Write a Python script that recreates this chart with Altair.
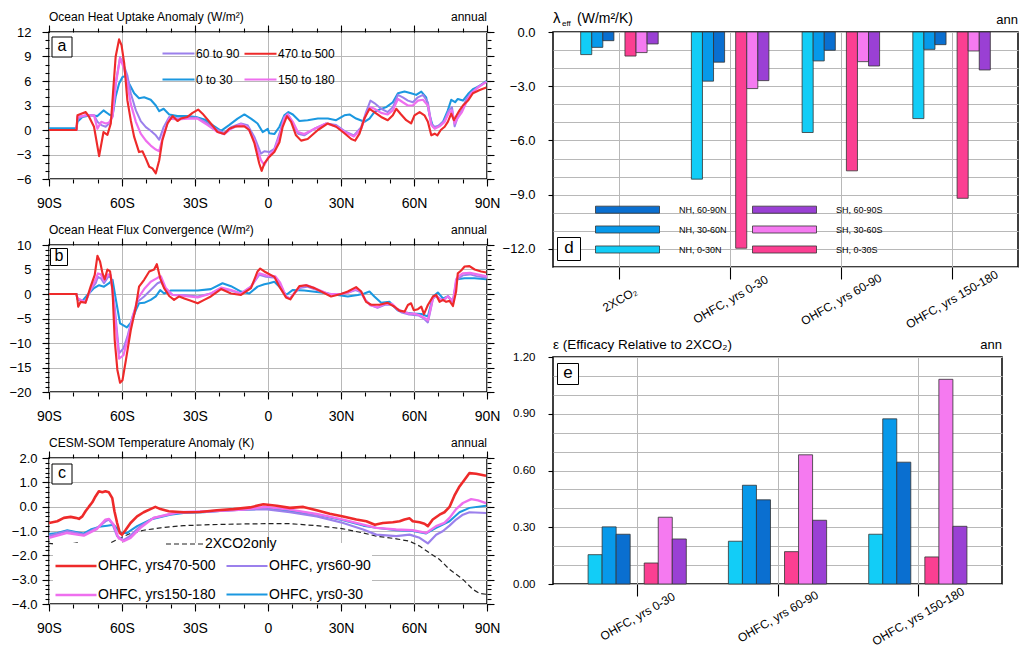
import json
import altair as alt
import pandas as pd

FONT = "Liberation Sans"
PURPLE = "#9b80ec"
RED = "#ee2a2a"
BLUE = "#1b98e0"
PINK = "#ee6fee"
GRID = "#b8b8b8"

# ---------------- Panel a : Ocean Heat Uptake Anomaly ----------------
A_SH_LAT = [-90, -78.7, -78.3, -74.9, -71.5, -70.1, -68.5, -66.7, -65.3, -63.9, -62.6, -60.8, -59.1, -57.8,
            -56.4, -54.3, -52.3, -50.2, -48.2, -46.1, -44.7, -42.9, -40.6, -37.2, -33.1, -29, -24.8, -20.7,
            -18, -15.2, -11.1, -8.4, -5.6, -2.9]
A_NH_LAT = [-1.5, 0.5, 2.6, 4.7, 6.7, 8.1, 10.2, 12.3, 14.9, 19.1, 23.9, 28, 32.1, 35.3, 38.3, 40.3, 42.1,
            43.7, 46.5, 49.2, 51.3, 53.4, 55.4, 57.5, 59.5, 61.6, 63.7, 65.7, 67.1, 68.5, 70.5, 72.6, 74.3,
            75.6, 76.7, 78, 79.7, 81.5, 83.5, 86.3, 89.7]
A_60_90 = [0, 0, 1.4, 1.8, 1.8, 1.0, 0.6, 0.4, 0.8, 1.8, 5.7, 8.9, 7.8, 6.7, 4.5, 2.4, 1.1, 0.35, -0.1, -0.65,
           -1.2, 0.35, 1.6, 1.4, 1.5, 1.5, 0.8, 0, -0.35, 0.35, 0.8, 0.6, -0.85, -2.9,
           -2.6, -2.7, -2.3, -0.45, 1.6, 2.0, 0.8, -0.45, -0.65, 0.15, 0.8, 0.6, -0.25, -0.65, 0.35, 2.2, 3.6,
           3.3, 2.6, 2.2, 2.8, 4.3, 4.0, 3.6, 3.4, 4.0, 4.3, 3.4, 0.8, 0.35, 0.6, 1.2, 2.4, 2.8, 0.45, 1.6,
           2.4, 3.8, 4.5, 5.3, 5.9]
A_150_180 = [0, 0, 1.6, 1.8, 1.8, 0.15, 1.0, 0.8, 0.9, 1.6, 5.5, 8.8, 7.5, 5.7, 3.2, 1.0, -0.45, -1.3, -1.9,
             -2.4, -2.6, -0.45, 1.4, 1.3, 1.4, 1.4, 0.6, -0.25, -0.5, 0.15, 0.7, 0.35, -1.3, -3.7,
             -4.3, -3.1, -2.5, -0.85, 1.4, 1.9, 1.0, -0.25, -0.5, 0.15, 0.8, 0.45, -0.35, -0.8, 0.15, 1.9, 2.8,
             2.6, 2.1, 1.9, 2.4, 3.8, 3.4, 3.0, 3.0, 3.6, 3.7, 3.0, 0.6, 0.15, 0.45, 1.0, 2.1, 2.4, 0.8, 1.5,
             2.2, 3.4, 4.5, 5.2, 5.9]
A_BLUE_LAT = [-90, -78.7, -78.3, -76.3, -72.9, -70.1, -67.6, -65.3, -63.9, -62.6, -61.2, -59.8, -58.4, -57.1,
              -55, -53, -50.9, -48.2, -46.1, -44.7, -42.9, -40.6, -37.2, -33.1, -29.6, -26.2, -22.8, -19.3,
              -16, -12.5, -9.7, -7, -4.3, -2.2, -0.1, 0.5, 2.6, 4.7, 6.7, 8.4, 10.2, 12.9, 16.3, 20.5, 24.6,
              28, 31.4, 33.5, 36.2, 39.6, 41.7, 43.7, 45.8, 48.6, 51.3, 53.4, 56.1, 58.8, 60.9, 63, 65, 66.4,
              67.8, 69.8, 71.9, 73.9, 75.3, 76.9, 78, 80.1, 82.2, 84.2, 87, 89.7]
A_0_30 = [0.2, 0.2, 1.0, 1.6, 1.8, 1.7, 2.4, 1.9, 1.7, 4.1, 5.7, 6.5, 6.6, 5.7, 4.5, 3.9, 4.0, 3.7, 3.0, 2.3,
          2.6, 1.9, 1.7, 1.7, 1.6, 1.3, 0.6, -0.1, 0.6, 1.4, 1.9, 1.4, 0.8, -0.25, 0.15, -0.4, -0.5, 0.4, 1.8,
          2.2, 1.9, 1.1, 1.2, 1.4, 1.4, 1.2, 1.8, 1.9, 1.4, 1.0, 1.4, 2.2, 2.5, 2.8, 3.4, 4.5, 4.7, 4.5, 4.3,
          4.7, 4.0, 1.8, 0.4, 0.4, 1.0, 2.4, 3.7, 3.4, 3.8, 3.6, 4.4, 5.0, 5.4, 6.0]
A_RED_LAT = [-90, -78.7, -78.3, -74.9, -73.5, -71.5, -69.4, -67.6, -66, -64.6, -63.7, -62.6, -61.2, -60.2,
             -59.1, -57.8, -56.4, -55, -53, -51.6, -50.2, -48.8, -47.5, -46.1, -44.7, -43.4, -41.3, -39.2,
             -37.2, -35.8, -33.1, -31, -28.7, -26.9, -23.5, -20.7, -18, -15.9, -13.2, -9.7, -7.7, -5.6, -3.6,
             -2.6, -1.5, 0.5, 2.6, 4.7, 6, 7.8, 9.5, 11.5, 13.6, 16.3, 20.5, 24.6, 28, 31.4, 34.2, 35.8, 37.6,
             39.6, 41.7, 43.7, 46.5, 49.2, 51.3, 52.7, 54.7, 56.8, 58.8, 60.2, 62.3, 64.3, 65.7, 67.1, 68.5,
             69.6, 71, 72.6, 73.9, 75.3, 76.4, 77.7, 78.7, 80.1, 82.2, 84.2, 87, 89.7]
A_470_500 = [0, 0, 1.8, 2.2, 1.6, 0.4, -3.2, -0.25, -0.6, 0.8, 4.5, 9.0, 11.1, 10.4, 8.2, 3.65, 1.2, -0.85, -2.7,
             -2.6, -3.5, -4.5, -4.7, -5.3, -3.7, -1.25, 0.8, 1.7, 1.1, 1.4, 1.6, 2.1, 2.5, 2.0, 0.8, -0.25, -0.5,
             0.15, 0.45, 0.45, 0, -1.6, -4.1, -5.0, -4.1, -3.3, -2.7, -1.5, 0.35, 1.7, 1.0, -0.65, -1.3, -1.1, 0,
             0.8, 0.4, -0.4, -1.1, -1.3, -0.45, 1.4, 2.6, 2.2, 1.6, 1.2, 1.8, 2.6, 1.9, 1.2, 0.8, 1.8, 2.2, 1.8,
             1.0, -0.65, -0.45, -0.65, 0, 0.4, 1.0, 2.0, 1.2, 1.9, 2.4, 3.0, 3.6, 4.5, 4.9, 5.2]

# ---------------- Panel b : Ocean Heat Flux Convergence ----------------
B_BLUE_LAT = [-90, -78.7, -78.3, -76.3, -74.2, -71.5, -69.4, -67.4, -65.3, -63.9, -62.6, -60.8, -58, -56.1,
              -54.3, -53, -50.9, -48.2, -46.1, -44.3, -42.7, -39.9, -34.4, -28.9, -23.5, -18.7, -15.2, -11.1,
              -7.7, -4.3, -1.5, 0.5, 2.6, 4.7, 7.4, 10.1, 14.9, 21.8, 28.6, 32.8, 36.9, 39.6, 41.7, 43.7,
              46.5, 49.9, 53.3, 56.1, 59.5, 63, 65.7, 67.8, 69.8, 71.9, 73.9, 76, 77.7, 80.8, 84.9, 89.7]
B_0_30 = [0, 0, -1.1, -1.4, -0.2, 1.2, 1.8, 1.5, 2.2, 2.9, -0.9, -6.0, -6.8, -5.7, -3.3, -1.9, -1.8, -1.2,
          -0.5, 0.8, 0.1, 0.7, 0.7, 0.7, 1.0, 2.2, 1.6, 0.5, 0.1, 1.5, 2.0, 2.2, 2.5, 1.5, -0.2, 0.8, 0.7,
          0.3, -0.2, -0.5, -0.2, 0.1, 0.5, -0.5, -1.8, -1.6, -3.3, -3.8, -4.0, -4.1, -4.6, -0.5, 0.3, -0.9,
          -0.5, -1.6, 3.0, 3.2, 3.2, 3.0]
B_RED_LAT = [-90, -78.7, -78.3, -78, -77, -75, -72.9, -71.2, -70.1, -69, -68, -67.1, -66, -64.9, -63.9, -63,
             -61.9, -60.8, -59.8, -58.4, -56.4, -54.3, -53, -50.9, -48.8, -46.8, -45.7, -44.3, -42.7, -40.6,
             -38.6, -36.5, -34.4, -31.7, -28.9, -26.2, -23.5, -19.3, -15.2, -11.1, -7, -4.3, -3.2, -1.5, 2.6,
             4.7, 7.4, 9.2, 10.8, 12.9, 15.6, 19.1, 25.9, 30, 32.8, 36.2, 38.3, 40.3, 42.4, 45.8, 49.2, 52,
             54, 56.1, 57.5, 58.8, 59.9, 61.6, 63, 64.1, 65.7, 67.8, 69.1, 70.5, 71.9, 73.2, 74.6, 76, 77.3,
             78, 79.4, 80.8, 82.8, 84.9, 87.6, 89.7]
B_470_500 = [0, 0, -1.2, -2.6, -1.6, -1.8, 1.5, 3.9, 7.8, 6.6, 4.2, 3.0, 5.0, 4.6, 0.8, -9.4, -15.5, -18.1,
             -17.6, -13.5, -7.4, -2.6, 1.5, 2.9, 4.6, 5.0, 6.1, 3.2, 1.2, -0.4, -1.2, -0.5, -0.9, -1.4, -1.9,
             -1.2, -0.5, 1.0, 0.1, -0.2, 1.2, 4.6, 5.2, 4.6, 3.5, 1.5, -0.7, -1.1, 0.1, 1.6, 1.8, 1.2, -0.5, 0,
             0.5, 1.4, 0.5, -1.6, -2.2, -2.2, -1.8, -2.6, -3.4, -3.6, -2.25, -1.9, -3.3, -3.1, -2.6, -4.1,
             -2.25, -0.5, -0.2, -1.6, -1.2, -1.6, -1.4, -2.45, 0.5, 4.2, 4.8, 5.6, 5.7, 5.0, 4.6, 4.4]
B_PP_LAT = [-90, -78.7, -78.3, -75, -72.9, -70.8, -69.9, -68.7, -67.4, -65.7, -64.6, -63, -61.2, -59.4, -57.8,
            -55.7, -53.6, -50.9, -48.2, -45.4, -44, -42, -39.2, -34.4, -28.9, -23.5, -19.3, -15.2, -11.1, -7,
            -3.6, -0.8, 3, 5, 7.4, 9, 11, 13, 16, 19, 25, 30, 33, 36, 38, 40, 42, 45, 48, 51, 53, 55, 58, 60,
            62, 64, 65.7, 67.8, 69, 70.5, 72, 74, 76, 77.3, 78, 80, 83, 86, 90]
B_60_90 = [0, 0, -0.9, -1.6, 0.8, 2.2, 3.5, 3.2, 2.2, 3.5, 3.4, -2.6, -12.1, -11.1, -8.7, -4.6, -1.6, -0.5,
           0.8, 2.2, 2.5, 0.8, -0.2, -0.2, -0.5, 0.1, 1.2, 0.7, 0.1, 1.5, 3.9, 3.5,
           3.3, 2.0, -0.5, -0.9, 0.2, 1.2, 1.5, 1.0, 0, 0, 0.3, 0.8, 0.4, -1.2, -2.2, -2.8, -2.2, -2.2, -3.2,
           -3.8, -4.2, -4.3, -4.4, -5.0, -5.8, -1.0, -0.4, -0.9, -1.2, -0.4, -1.5, 2.5, 3.0, 3.8, 4.0, 3.6, 3.3]
B_150_180 = [0, 0, -0.9, -1.7, 1.0, 3.0, 4.2, 4.0, 2.7, 4.0, 3.8, -4.0, -13.2, -12.5, -9.5, -5.0, -1.0, 1.0,
             2.5, 3.3, 3.6, 1.2, -0.2, -0.4, -0.7, 0.1, 1.3, 0.8, 0.1, 1.5, 4.2, 3.8,
             3.6, 2.3, -0.5, -1.0, 0.3, 1.5, 1.8, 1.2, 0, 0, 0.3, 1.0, 0.6, -1.2, -2.3, -2.7, -2.0, -2.0,
             -3.0, -3.5, -4.0, -4.0, -4.3, -4.8, -5.4, -0.8, -0.3, -1.0, -1.3, -0.5, -1.6, 3.0, 3.5, 4.2,
             4.3, 4.0, 3.6]

# ---------------- Panel c : CESM-SOM Temperature Anomaly ----------------
C_RED_LAT = [-90, -86.6, -83.9, -81.1, -79.1, -77.7, -76.3, -75, -73.6, -72.2, -70.9, -69.5, -68.1, -66.8,
             -65.4, -64, -63.1, -62, -60.9, -60, -58.6, -56.5, -53.8, -51.1, -48.3, -46.3, -44.2, -40.8,
             -34.7, -27.9, -21, -14.2, -7.4, -1.9, 3.6, 9, 14.5, 20, 25.4, 30.9, 36.3, 40.4, 43.9, 47.2,
             51.3, 54.1, 56.1, 58.2, 59.5, 62.3, 64.3, 65.7, 67.7, 70.5, 72.5, 74.6, 76.6, 78.7, 80.7, 82.8,
             85.5, 89.6]
C_470_500 = [-0.67, -0.6, -0.46, -0.42, -0.46, -0.5, -0.4, -0.19, 0.0, 0.18, 0.42, 0.63, 0.59, 0.63, 0.59,
             0.35, -0.19, -0.67, -1.08, -1.15, -0.97, -0.67, -0.4, -0.23, -0.1, -0.01, -0.1, -0.19, -0.23,
             -0.22, -0.15, -0.1, -0.03, 0.1, 0.04, -0.05, -0.01, -0.15, -0.29, -0.4, -0.53, -0.6, -0.74,
             -0.67, -0.64, -0.6, -0.53, -0.48, -0.6, -0.64, -0.7, -0.8, -0.53, -0.33, -0.23, -0.01, 0.45,
             0.83, 1.1, 1.38, 1.35, 1.27]
C_BLUE_LAT = [-90, -86.6, -82.5, -78.4, -75.7, -72.9, -69.5, -66.1, -63.4, -60.6, -57.9, -53.8, -48.3, -40.2,
              -34.7, -26.5, -15.6, -4.6, -1.2, 9, 20, 30.9, 39.1, 44.5, 52.7, 59.5, 65, 69.1, 74.6, 78.7,
              82.8, 89.6]
C_0_30 = [-1.12, -1.08, -0.97, -1.05, -1.1, -0.94, -0.83, -0.78, -0.74, -1.08, -1.08, -0.8, -0.53, -0.33,
          -0.26, -0.23, -0.15, -0.1, -0.05, -0.19, -0.33, -0.56, -0.78, -0.87, -0.97, -1.0, -1.1, -0.87,
          -0.6, -0.23, -0.05, 0.04]
C_PURPLE_LAT = [-90, -82.5, -75.7, -70.2, -66.8, -65.4, -64, -62, -59.3, -56.5, -52.4, -47, -37.4, -23.8,
                -10.1, -1.2, 9, 20, 30.9, 39.1, 44.5, 52.7, 58.2, 62.3, 65.7, 69.1, 71.8, 74.6, 77.3, 80.1,
                82.8, 89.6]
C_60_90 = [-1.21, -1.0, -1.15, -0.87, -0.6, -0.53, -0.7, -1.21, -1.38, -1.19, -0.8, -0.46, -0.26, -0.19,
           -0.12, -0.1, -0.23, -0.4, -0.67, -0.94, -1.15, -1.21, -1.15, -1.28, -1.51, -1.15, -1.01, -0.78,
           -0.53, -0.33, -0.23, -0.26]
C_PINK_LAT = [-90, -82.5, -75.7, -70.2, -66.8, -65.4, -63.4, -61.5, -59.3, -56.5, -52.4, -47, -37.4, -23.8,
              -10.1, -1.2, 9, 20, 30.9, 39.1, 44.5, 52.7, 59.5, 65, 69.1, 72.5, 74.6, 77.3, 80.1, 83.5, 86.3,
              89.6]
C_150_180 = [-1.28, -1.08, -1.19, -0.91, -0.53, -0.5, -0.74, -1.28, -1.42, -1.28, -0.87, -0.46, -0.23, -0.19,
             -0.12, -0.01, -0.12, -0.3, -0.53, -0.74, -0.87, -0.94, -0.97, -1.08, -0.8, -0.67, -0.46, -0.1,
             0.15, 0.31, 0.26, 0.15]
C_CO2_LAT = [-90, -83.9, -78.4, -74.3, -70.2, -66.1, -60.6, -56.5, -51.1, -44.2, -34.7, -23.8, -10.1, -1.2, 9,
             20, 30.9, 39.1, 44.5, 52.7, 58.2, 62.3, 66.4, 70.5, 74.6, 80.1, 84.2, 86.9, 89.6]
C_2XCO2 = [-1.51, -1.56, -1.49, -1.6, -1.69, -1.56, -1.28, -1.1, -0.97, -0.87, -0.78, -0.74, -0.71, -0.7, -0.7,
           -0.78, -0.91, -1.08, -1.21, -1.32, -1.42, -1.62, -1.9, -2.17, -2.58, -2.99, -3.4, -3.56, -3.6]

# ---------------- Panels d, e : bars ----------------
D_CATS = ["2XCO₂", "OHFC, yrs 0-30", "OHFC, yrs 60-90", "OHFC, yrs 150-180"]
E_CATS = ["OHFC, yrs 0-30", "OHFC, yrs 60-90", "OHFC, yrs 150-180"]
BAR_SERIES = ["NH, 0-30N", "NH, 30-60N", "NH, 60-90N", "SH, 0-30S", "SH, 30-60S", "SH, 60-90S"]
BAR_COLORS = ["#12cdf7", "#0799ea", "#0a6fd0", "#fb3f92", "#f57af0", "#9a40d4"]
D_NH_0_30 = [-1.25, -8.14, -5.56, -4.79]
D_NH_30_60 = [-0.85, -2.72, -1.6, -0.96]
D_NH_60_90 = [-0.48, -1.67, -1.01, -0.7]
D_SH_0_30 = [-1.33, -11.96, -7.68, -9.2]
D_SH_30_60 = [-1.14, -3.13, -1.64, -1.05]
D_SH_60_90 = [-0.66, -2.69, -1.88, -2.1]
E_NH_0_30 = [0.155, 0.226, 0.263]
E_NH_30_60 = [0.302, 0.522, 0.873]
E_NH_60_90 = [0.263, 0.445, 0.644]
E_SH_0_30 = [0.111, 0.171, 0.143]
E_SH_30_60 = [0.353, 0.683, 1.082]
E_SH_60_90 = [0.238, 0.337, 0.305]

LAT_MAJOR = [-90, -60, -30, 0, 30, 60, 90]
LAT_MINOR = list(range(-90, 91, 10))
LAT_LABEL = "datum.value == 0 ? '0' : (datum.value < 0 ? (-datum.value) + 'S' : datum.value + 'N')"
RESOLVE = dict(color="independent", strokeWidth="independent", strokeDash="independent")


def long_df(items, key):
    rows = []
    for name, lats, vals in items:
        for la, v in zip(lats, vals):
            rows.append({key: name, "lat": la, "val": v})
    return pd.DataFrame(rows)


def xsc():
    return alt.Scale(domain=[-90, 90], nice=False, zero=False)


def ysc(dom):
    return alt.Scale(domain=dom, nice=False, zero=False)


def ax(orient, values, size, labels=False, grid=False, **kw):
    return alt.Axis(orient=orient, values=values, title=None, tickSize=size, tickWidth=1.1, tickColor="black",
                    labels=labels, grid=grid, gridColor=GRID, gridWidth=1, domain=False, labelColor="black",
                    labelFont=FONT, **kw)


def frame_layers(df, key, ydom, ymaj, ymin):
    out = []
    for xo, yo, xv, yv, s in [("bottom", "left", LAT_MINOR, ymin, 4), ("top", "right", LAT_MAJOR, ymaj, 7),
                              ("top", "right", LAT_MINOR, ymin, 4)]:
        out.append(alt.Chart(df).mark_line(opacity=0).encode(
            x=alt.X("lat:Q", scale=xsc(), axis=ax(xo, xv, s)),
            y=alt.Y("val:Q", scale=ysc(ydom), axis=ax(yo, yv, s)),
            detail=f"{key}:N"))
    return out


def text_layer(txt, x, y, size, align="left", baseline="alphabetic", dy=0):
    return alt.Chart(pd.DataFrame({"t": [txt]})).mark_text(
        align=align, baseline=baseline, fontSize=size, font=FONT, color="black", dy=dy
    ).encode(text="t:N", x=alt.value(x), y=alt.value(y))


def letter_box(letter, cx, cy, side, fs=16):
    box = alt.Chart(pd.DataFrame({"t": [letter]})).mark_point(
        shape="square", size=side * side, filled=True, fill="white", stroke="black", strokeWidth=1, opacity=1
    ).encode(x=alt.value(cx), y=alt.value(cy))
    return [box, text_layer(letter, cx, cy, fs, align="center", baseline="middle", dy=-1)]


def line_panel(df, key, dom, rng, wid, ydom, ymaj, ymin, yfmt, ylabpad, title, letter, lbox, legend, w, h,
               extra=None):
    lines = alt.Chart(df).mark_line(strokeJoin="round").encode(
        x=alt.X("lat:Q", scale=xsc(),
                axis=ax("bottom", LAT_MAJOR, 7, labels=True, grid=True, labelExpr=LAT_LABEL, labelPadding=10,
                        labelFontSize=14, labelFlush=False, labelOverlap=False)),
        y=alt.Y("val:Q", scale=ysc(ydom),
                axis=ax("left", ymaj, 7, labels=True, grid=True, format=yfmt, labelPadding=ylabpad,
                        labelFontSize=13)),
        color=alt.Color(f"{key}:N", scale=alt.Scale(domain=dom, range=rng), legend=legend),
        strokeWidth=alt.StrokeWidth(f"{key}:N", scale=alt.Scale(domain=dom, range=wid), legend=None),
    )
    layers = frame_layers(df, key, ydom, ymaj, ymin)
    if extra is not None:
        layers.append(extra)
    layers.append(lines)
    layers += letter_box(letter, *lbox)
    layers.append(text_layer(title, 0, -11, 12))
    layers.append(text_layer("annual", w, -11, 12, align="right"))
    return alt.layer(*layers).resolve_axis(x="independent", y="independent").properties(width=w, height=h)


# ---- panel a (legend order is column-major)
A_DOM = ["60 to 90", "0 to 30", "470 to 500", "150 to 180"]
A_RNG = [PURPLE, BLUE, RED, PINK]
A_WID = [2, 2.2, 2.6, 2]
df_a = long_df([("0 to 30", A_BLUE_LAT, A_0_30), ("60 to 90", A_SH_LAT + A_NH_LAT, A_60_90),
                ("150 to 180", A_SH_LAT + A_NH_LAT, A_150_180), ("470 to 500", A_RED_LAT, A_470_500)], "sa")
leg_a = alt.Legend(orient="none", legendX=112, legendY=4, columns=2, title=None, symbolType="stroke",
                   symbolSize=1024, symbolStrokeWidth=2, labelFontSize=12, labelFont=FONT, labelOffset=0,
                   columnPadding=0, rowPadding=2, padding=0, labelColor="black")
chart_a = line_panel(df_a, "sa", A_DOM, A_RNG, A_WID, [-6, 12], list(range(-6, 13, 3)), list(range(-6, 13)),
                     "d", 11, "Ocean Heat Uptake Anomaly (W/m²)", "a", (13, 15, 20), leg_a, 438, 147)

# ---- panel b
df_b = long_df([("0 to 30", B_BLUE_LAT, B_0_30), ("60 to 90", B_PP_LAT, B_60_90),
                ("150 to 180", B_PP_LAT, B_150_180), ("470 to 500", B_RED_LAT, B_470_500)], "sb")
chart_b = line_panel(df_b, "sb", A_DOM, A_RNG, A_WID, [-20, 10], list(range(-20, 11, 5)), list(range(-20, 11)),
                     "d", 11, "Ocean Heat Flux Convergence (W/m²)", "b", (10, 12, 17), None, 438, 147)

# ---- panel c
C_DOM = ["OHFC, yrs470-500", "OHFC, yrs150-180", "OHFC, yrs60-90", "OHFC, yrs0-30"]
C_RNG = [RED, PINK, PURPLE, BLUE]
C_WID = [2.6, 2, 2, 2.2]
df_c = long_df([("OHFC, yrs0-30", C_BLUE_LAT, C_0_30), ("OHFC, yrs60-90", C_PURPLE_LAT, C_60_90),
                ("OHFC, yrs150-180", C_PINK_LAT, C_150_180), ("OHFC, yrs470-500", C_RED_LAT, C_470_500)], "sc")
df_co2 = long_df([("2XCO2only", C_CO2_LAT, C_2XCO2)], "sco2")
dash = alt.Chart(df_co2).mark_line(color="#222222", strokeWidth=1.2).encode(
    x=alt.X("lat:Q", scale=xsc(), axis=None),
    y=alt.Y("val:Q", scale=ysc([-4, 2]), axis=None),
    strokeDash=alt.StrokeDash("sco2:N", scale=alt.Scale(domain=["2XCO2only"], range=[[5, 3]]),
                              legend=alt.Legend(orient="none", legendX=116, legendY=66, title=None,
                                                symbolType="stroke", symbolSize=1444, symbolStrokeWidth=1.2,
                                                symbolStrokeColor="#222222", labelFontSize=14, labelFont=FONT,
                                                labelOffset=0, padding=0, labelColor="black", zindex=3)),
)
leg_c = alt.Legend(orient="none", legendX=4, legendY=85, columns=2, title=None, symbolType="stroke",
                   symbolSize=1681, symbolStrokeWidth=2.5, labelFontSize=14, labelFont=FONT, labelOffset=0,
                   columnPadding=6, rowPadding=-1, padding=1, fillColor="white", labelColor="black", zindex=1)
chart_c = line_panel(df_c, "sc", C_DOM, C_RNG, C_WID, [-4, 2], [-4, -3, -2, -1, 0, 1, 2],
                     [round(-4 + 0.2 * i, 1) for i in range(31)], ".1f", 5,
                     "CESM-SOM Temperature Anomaly (K)", "c", (13, 16, 20), leg_c, 438, 146, extra=dash)


# ---- bars
def bar_df(cats, vals_list, key):
    rows = []
    offs = [-0.3, -0.2, -0.1, 0.1, 0.2, 0.3]
    for s, off, vals in zip(BAR_SERIES, offs, vals_list):
        for i, v in enumerate(vals):
            rows.append({key: s, "x0": i + 1 + off - 0.05, "x1": i + 1 + off + 0.05, "val": v})
    return pd.DataFrame(rows)


# column-major legend order: NH column then SH column
LEG_ORDER = ["NH, 60-90N", "NH, 30-60N", "NH, 0-30N", "SH, 60-90S", "SH, 30-60S", "SH, 0-30S"]
LEG_COLORS = [BAR_COLORS[BAR_SERIES.index(s)] for s in LEG_ORDER]


def bar_panel(df, key, cats, ydom, ymaj, ygrid, yfmt, yfs, w, h, title_layers, letter_box_args, legend):
    n = len(cats)
    xs = alt.Scale(domain=[0.4, n + 0.6], nice=False, zero=False)
    labexpr = json.dumps(cats, ensure_ascii=False) + "[datum.value - 1]"
    xaxis = ax("bottom", list(range(1, n + 1)), 12, labels=True, grid=True, labelExpr=labexpr,
               labelAngle=330, labelAlign="center", labelBaseline="middle", labelPadding=20,
               labelFontSize=12, labelFlush=False, labelOverlap=False)
    bars = alt.Chart(df).mark_bar(stroke="#333333", strokeWidth=0.8).encode(
        x=alt.X("x0:Q", scale=xs, axis=xaxis),
        x2="x1:Q",
        y=alt.Y("val:Q", scale=ysc(ydom),
                axis=ax("left", ymaj, 5, labels=True, format=yfmt, labelPadding=13, labelFontSize=yfs)),
        y2=alt.datum(0),
        color=alt.Color(f"{key}:N", scale=alt.Scale(domain=LEG_ORDER, range=LEG_COLORS), legend=legend),
    )
    gridl = alt.Chart(df).mark_bar(opacity=0).encode(
        x=alt.X("x0:Q", scale=xs, axis=xaxis), x2="x1:Q",
        y=alt.Y("val:Q", scale=ysc(ydom), axis=ax("left", ygrid, 0, grid=True, ticks=False)),
        y2=alt.datum(0),
    )
    layers = [gridl, bars] + letter_box(*letter_box_args) + title_layers
    return alt.layer(*layers).resolve_axis(y="independent").properties(width=w, height=h)


df_d = bar_df(D_CATS, [D_NH_0_30, D_NH_30_60, D_NH_60_90, D_SH_0_30, D_SH_30_60, D_SH_60_90], "sd")
df_e = bar_df(E_CATS, [E_NH_0_30, E_NH_30_60, E_NH_60_90, E_SH_0_30, E_SH_30_60, E_SH_60_90], "se")

leg_d = alt.Legend(orient="none", legendX=66, legendY=169, columns=2, title=None,
                   symbolType="M-4,-0.44L4,-0.44L4,0.44L-4,0.44Z", symbolSize=256, symbolStrokeColor="#333333",
                   symbolStrokeWidth=0.8, labelFontSize=9, labelFont=FONT, labelOffset=43, columnPadding=23,
                   rowPadding=6, padding=0, labelColor="black")
d_titles = [text_layer("λ", 0, -9, 15), text_layer("eff", 9, -6, 8), text_layer("(W/m²/K)", 24, -9, 14),
            text_layer("ann", 465, -8, 13, align="right")]
chart_d = bar_panel(df_d, "sd", D_CATS, [-13, 0], [0, -3, -6, -9, -12], list(range(-13, 1)), ".1f", 13, 465, 235,
                    d_titles, ("d", 16, 217, 23, 17), leg_d)

e_titles = [text_layer("ε (Efficacy Relative to 2XCO₂)", 0, -8, 13.5),
            text_layer("ann", 449, -8, 13, align="right")]
chart_e = bar_panel(df_e, "se", E_CATS, [0, 1.2], [0, 0.3, 0.6, 0.9, 1.2], [round(0.1 * i, 1) for i in range(13)],
                    ".2f", 11.5, 449, 227, e_titles, ("e", 15, 17, 21, 17), None)

left = alt.vconcat(chart_a, chart_b, chart_c, spacing=12).resolve_scale(**RESOLVE)
right = alt.vconcat(chart_d, chart_e, spacing=6).resolve_scale(**RESOLVE)
chart = alt.hconcat(left, right, spacing=0).properties(
    padding={"left": 8, "top": 10, "right": 4, "bottom": 2}
).resolve_scale(**RESOLVE).configure(font=FONT).configure_view(stroke="black", strokeWidth=1.5)

chart.save("out.html", embed_options={"renderer": "svg", "actions": False})
